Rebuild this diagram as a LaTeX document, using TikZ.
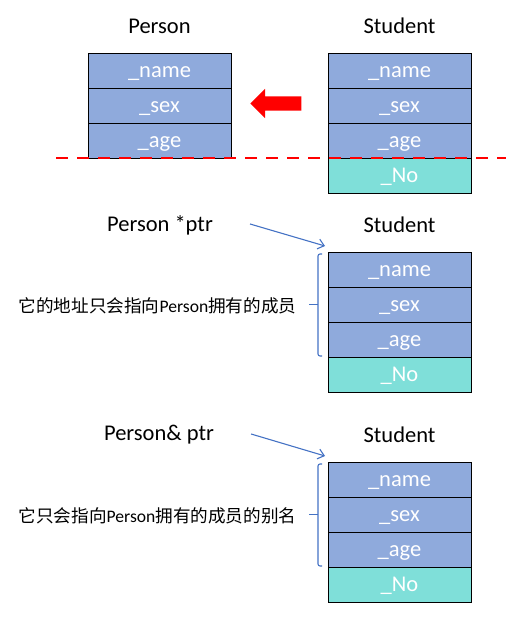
\documentclass[tikz,border=0pt]{standalone}
\usepackage{fontspec}
\setmainfont{Carlito}
\newfontfamily\cjk{Noto Sans CJK SC}
\usetikzlibrary{positioning,shapes.arrows,arrows.meta}

\definecolor{fieldblue}{HTML}{8FAADC}
\definecolor{fieldteal}{HTML}{7FDFD9}
\definecolor{linkblue}{HTML}{4472C4}

\tikzset{
	title/.style={font=\fontsize{22.5}{26}\selectfont, inner sep=0pt},
	field/.style={draw=black, line width=0.9pt, fill=fieldblue, text=white, minimum width=143pt, minimum height=35pt, inner sep=0pt, outer sep=0pt, text height=14pt, text depth=0pt, font=\fontsize{22.5}{26}\selectfont},
	extra/.style={field, fill=fieldteal},
	note/.style={font=\fontsize{17.6}{21}\selectfont, inner sep=0pt},
	fatarrow/.style={single arrow, fill=red, draw=none, shape border rotate=180, minimum height=51pt, minimum width=29pt, inner sep=7pt, single arrow head extend=7.5pt},
	cut/.style={red, line width=2.5pt, dash pattern=on 12pt off 9pt},
	ptr/.style={linkblue, line width=1.1pt, -{Straight Barb[length=6pt, width=10pt]}},
	brace/.style={linkblue, line width=1.1pt, rounded corners=2pt}
}

\begin{document}
\begin{tikzpicture}[x=1pt, y=-1pt]
			\useasboundingbox (0,0) rectangle (528,618);

			% Person and Student
			\node [title] (ptitle) at (159.5,26) {Person};
			\node [title] (stitle) at (399.5,26) {Student};
			\node [field] (pname) at (159.5,70.5) {\_name};
			\node [field, below=0pt of pname] (psex) {\_sex};
			\node [field, below=0pt of psex] (page) {\_age};
			\node [field] (sname) at (399.5,70.5) {\_name};
			\node [field, below=0pt of sname] (ssex) {\_sex};
			\node [field, below=0pt of ssex] (sage) {\_age};
			\node [extra, below=0pt of sage] (sno) {\_No};

			% slicing
			\node [fatarrow] (move) at (279.5,103.5) {};
			\coordinate (cutl) at (56,158);
			\coordinate (cutr) at (506,158);
			\draw [cut] (cutl) -- (cutr);

			% pointer
			\node [title] (ptrtitle) at (160,225) {Person *ptr};
			\node [title] (mtitle) at (399.5,225) {Student};
			\node [field] (mname) at (399.5,269.5) {\_name};
			\node [field, below=0pt of mname] (msex) {\_sex};
			\node [field, below=0pt of msex] (mage) {\_age};
			\node [extra, below=0pt of mage] (mno) {\_No};
			\draw [ptr] ([xshift=37pt,yshift=1pt]ptrtitle.east) -- ([xshift=-3pt,yshift=6pt]mname.north west);
			\draw [brace] ([xshift=-6pt,yshift=-2pt]mname.north west) -- ++(-4,0) |- ([xshift=-6pt,yshift=1pt]mage.south west);
			\draw [brace] ([xshift=-10pt]msex.west) -- ++(-9,0) coordinate (mtip);
			\node [note] (mnote) at (157.5,306) {{\cjk 它的地址只会指向}Person{\cjk 拥有的成员}};

			% reference
			\node [title] (reftitle) at (159,435) {Person\& ptr};
			\node [title] (rtitle) at (399.5,435) {Student};
			\node [field] (rname) at (399.5,479.5) {\_name};
			\node [field, below=0pt of rname] (rsex) {\_sex};
			\node [field, below=0pt of rsex] (rage) {\_age};
			\node [extra, below=0pt of rage] (rno) {\_No};
			\draw [ptr] ([xshift=37pt,yshift=1pt]reftitle.east) -- ([xshift=-3pt,yshift=6pt]rname.north west);
			\draw [brace] ([xshift=-6pt,yshift=-2pt]rname.north west) -- ++(-4,0) |- ([xshift=-6pt,yshift=1pt]rage.south west);
			\draw [brace] ([xshift=-10pt]rsex.west) -- ++(-9,0) coordinate (rtip);
			\node [note] (rnote) at (157.5,516) {{\cjk 它只会指向}Person{\cjk 拥有的成员的别名}};
		\end{tikzpicture}
\end{document}
